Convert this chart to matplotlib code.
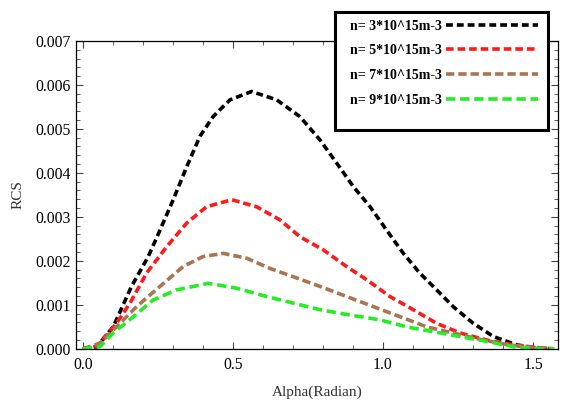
import matplotlib.pyplot as plt
from matplotlib.patches import Rectangle
from matplotlib.ticker import MultipleLocator

# data (alpha in radian, RCS)
x_n3 = [0.0, 0.046, 0.101, 0.162, 0.218, 0.257, 0.301, 0.346, 0.39, 0.434, 0.49, 0.562,
        0.646, 0.723, 0.79, 0.846, 0.901, 0.957, 1.012, 1.068, 1.123, 1.179, 1.234,
        1.301, 1.368, 1.446, 1.512, 1.57]
y_n3 = [0.0, 0.00005, 0.0005, 0.00142, 0.0021, 0.0027, 0.00339, 0.00414, 0.00483, 0.00528,
        0.00566, 0.00585, 0.00566, 0.00528, 0.00475, 0.00422, 0.00369, 0.00323, 0.0027,
        0.00217, 0.00172, 0.00134, 0.00096, 0.00058, 0.00028, 0.00009, 0.00002, 0.0]

x_n5 = [0.0, 0.046, 0.112, 0.157, 0.212, 0.279, 0.346, 0.412, 0.496, 0.579, 0.657, 0.723,
        0.801, 0.879, 0.946, 1.023, 1.101, 1.179, 1.257, 1.346, 1.434, 1.51, 1.57]
y_n5 = [0.0, 0.00005, 0.00058, 0.00104, 0.00172, 0.00232, 0.00286, 0.00323, 0.00339,
        0.00323, 0.00293, 0.00255, 0.00225, 0.00187, 0.00157, 0.00119, 0.00089, 0.00058,
        0.00036, 0.0002, 0.00009, 0.00003, 0.0]

x_n7 = [0.0, 0.057, 0.112, 0.179, 0.257, 0.334, 0.401, 0.468, 0.546, 0.623, 0.701, 0.79,
        0.879, 0.968, 1.057, 1.146, 1.234, 1.334, 1.42, 1.51, 1.57]
y_n7 = [0.0, 0.00013, 0.0005, 0.00096, 0.00142, 0.00187, 0.0021, 0.00217, 0.00206, 0.00183,
        0.00164, 0.00142, 0.00119, 0.00096, 0.00073, 0.0005, 0.00036, 0.0002, 0.00009,
        0.00002, 0.0]

x_n9 = [0.0, 0.057, 0.101, 0.168, 0.234, 0.312, 0.418, 0.512, 0.612, 0.701, 0.79, 0.89,
        0.99, 1.079, 1.168, 1.257, 1.346, 1.434, 1.51, 1.57]
y_n9 = [0.0, 0.00005, 0.00036, 0.00073, 0.00111, 0.00134, 0.00149, 0.00138, 0.00119,
        0.00104, 0.00089, 0.00077, 0.00066, 0.0005, 0.00039, 0.00028, 0.00017, 0.00005,
        0.00001, 0.0]

labels = ["n= 3*10^15m-3", "n= 5*10^15m-3", "n= 7*10^15m-3", "n= 9*10^15m-3"]

plt.rcParams['font.family'] = 'Liberation Serif'

fig = plt.figure(figsize=(5.67, 4.01), dpi=100)
ax = fig.add_axes([0.134, 0.130, 0.850, 0.768])

ax.plot(x_n3, y_n3, color='black', lw=2.6, ls=(0, (1.9, 1.1)), label=labels[0])
ax.plot(x_n5, y_n5, color='#ff1a1a', lw=2.6, ls=(0, (2.1, 1.1)), label=labels[1])
ax.plot(x_n7, y_n7, color='#a87550', lw=2.6, ls=(0, (2.3, 1.1)), label=labels[2])
ax.plot(x_n9, y_n9, color='#22ee22', lw=2.6, ls=(0, (2.6, 1.3)), label=labels[3])

ax.set_xlim(-0.023, 1.583)
ax.set_ylim(0, 0.007)
ax.xaxis.set_major_locator(MultipleLocator(0.5))
ax.xaxis.set_minor_locator(MultipleLocator(0.1))
ax.yaxis.set_major_locator(MultipleLocator(0.001))
ax.yaxis.set_minor_locator(MultipleLocator(0.0002))
ax.xaxis.set_major_formatter(plt.FormatStrFormatter('%.1f'))
ax.yaxis.set_major_formatter(plt.FormatStrFormatter('%.3f'))
ax.tick_params(which='both', direction='in', top=True, right=True, labelsize=11.3,
               color='#444444')
ax.tick_params(which='major', length=5, width=0.8)
ax.tick_params(which='minor', length=3, width=0.6)
ax.tick_params(axis='x', pad=6)
for s in ax.spines.values():
    s.set_linewidth(0.9)

ax.set_xlabel("Alpha(Radian)", fontsize=11, labelpad=9, color='#333333')
ax.set_ylabel("RCS", fontsize=11, labelpad=8, color='#333333')

# legend box drawn by hand to match the framed block
fig.patches.append(Rectangle((335 / 567, 1 - 130 / 401), 213 / 567, 118 / 401,
                             transform=fig.transFigure, fill=True, facecolor='white',
                             edgecolor='black', lw=2.2, zorder=5))
leg = fig.legend(loc='upper left', bbox_to_anchor=(337 / 567, 1 - 7 / 401),
                 frameon=False, markerfirst=False, handlelength=6.6, handletextpad=0.35,
                 labelspacing=0.85, prop={'weight': 'bold', 'size': 10})
leg.set_zorder(6)

fig.savefig('out.png', dpi=100)
